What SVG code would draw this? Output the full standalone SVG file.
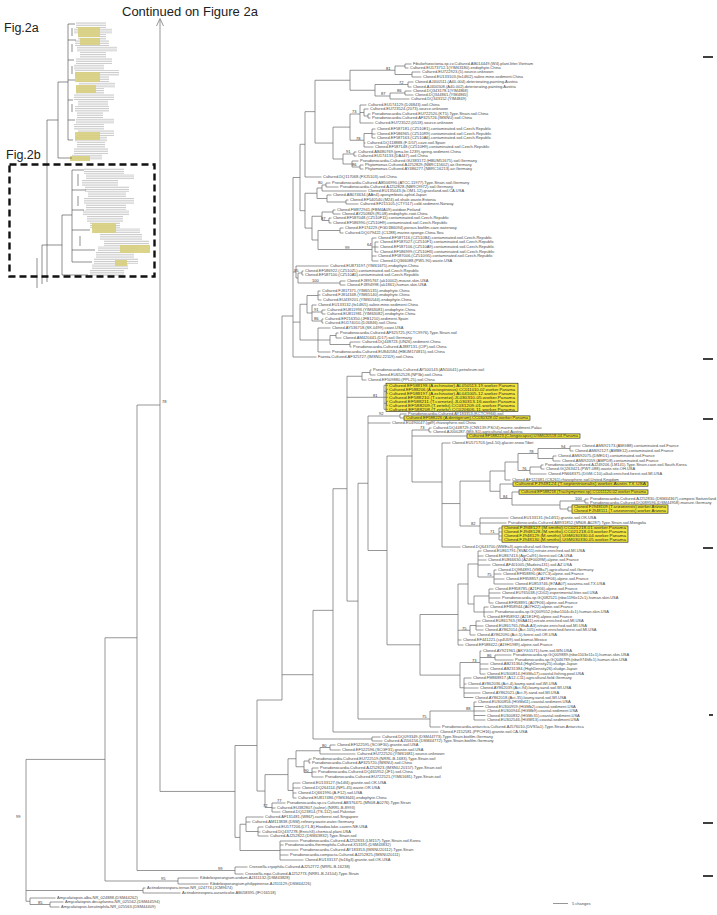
<svg xmlns="http://www.w3.org/2000/svg" width="717" height="915" viewBox="0 0 717 915">
<defs>
<style>
.t{font-family:"Liberation Sans",Arial,sans-serif;font-size:4px;fill:#4a4a4a}
.ty{font-family:"Liberation Sans",Arial,sans-serif;font-size:4px;fill:#2a2a2a}
.bs{font-family:"Liberation Sans",Arial,sans-serif;font-size:4px;fill:#333}
.br{fill:none;stroke:#6a6a6a;stroke-width:0.7}
.hl{fill:#f3e63c;stroke:#1c1c1c;stroke-width:0.6}
.big{font-family:"Liberation Sans",Arial,sans-serif;fill:#222}
.ib{fill:url(#stripes)}
.iy{fill:#d9cf80;opacity:0.9}
.il{fill:none;stroke:#444;stroke-width:0.6}
.tk{fill:#111}
</style>
<pattern id="stripes" width="6" height="1.8" patternUnits="userSpaceOnUse"><rect width="6" height="0.9" fill="#c9c9c9"/></pattern>
</defs>
<rect width="717" height="915" fill="#fff"/>

<g id="inset">
<g id="inset-fig2a">
<rect class="ib" x="76" y="22" width="30" height="6"/><rect class="ib" x="74" y="28" width="38" height="6"/><rect class="ib" x="78" y="34" width="28" height="6"/><rect class="ib" x="75" y="40" width="34" height="6"/><rect class="ib" x="77" y="46" width="40" height="6"/><rect class="ib" x="80" y="52" width="26" height="6"/><rect class="ib" x="76" y="58" width="36" height="6"/><rect class="ib" x="74" y="64" width="30" height="6"/><rect class="ib" x="75" y="70" width="44" height="6"/><rect class="ib" x="77" y="76" width="32" height="6"/><rect class="ib" x="79" y="82" width="36" height="6"/><rect class="ib" x="76" y="88" width="28" height="6"/><rect class="ib" x="74" y="94" width="40" height="6"/><rect class="ib" x="78" y="100" width="30" height="6"/><rect class="ib" x="75" y="106" width="34" height="6"/><rect class="ib" x="77" y="112" width="26" height="6"/><rect class="ib" x="76" y="118" width="38" height="6"/><rect class="ib" x="74" y="124" width="30" height="6"/><rect class="ib" x="78" y="130" width="36" height="6"/><rect class="ib" x="75" y="136" width="32" height="6"/><rect class="ib" x="77" y="142" width="28" height="6"/><rect class="ib" x="74" y="148" width="34" height="6"/><rect class="ib" x="72" y="154" width="30" height="6"/>
<rect class="iy" x="78" y="27" width="22" height="10"/><rect class="iy" x="80" y="38" width="20" height="7"/><rect class="iy" x="75" y="72" width="25" height="10"/><rect class="iy" x="76" y="85" width="20" height="8"/><rect class="iy" x="75" y="132" width="25" height="8"/><rect class="iy" x="70" y="156" width="20" height="5"/>
<path class="il" d="M68 24V140M68 24H75M68 40H76M68 60H74M68 80H75M68 100H73M68 120H75M68 140H73M72 28V36M72 44V52M72 66V74M72 104V112M58 82V158M58 82H68M58 158H72M47 120V282M47 120H58"/>
</g>
<g id="inset-fig2b">
<rect class="ib" x="84" y="168" width="40" height="6"/><rect class="ib" x="86" y="174" width="48" height="6"/><rect class="ib" x="82" y="180" width="36" height="6"/><rect class="ib" x="85" y="186" width="44" height="6"/><rect class="ib" x="88" y="192" width="38" height="6"/><rect class="ib" x="84" y="198" width="50" height="6"/><rect class="ib" x="86" y="204" width="40" height="6"/><rect class="ib" x="83" y="210" width="46" height="6"/><rect class="ib" x="87" y="216" width="36" height="6"/><rect class="ib" x="90" y="222" width="30" height="6"/><rect class="ib" x="95" y="228" width="45" height="6"/><rect class="ib" x="100" y="234" width="42" height="6"/><rect class="ib" x="104" y="240" width="45" height="6"/><rect class="ib" x="98" y="246" width="40" height="6"/><rect class="ib" x="96" y="252" width="38" height="6"/><rect class="ib" x="94" y="258" width="44" height="6"/><rect class="ib" x="92" y="264" width="36" height="6"/><rect class="ib" x="90" y="270" width="34" height="6"/>
<rect class="iy" x="92" y="223" width="24" height="10"/><rect class="iy" x="120" y="245" width="30" height="8"/><rect class="iy" x="115" y="260" width="12" height="6"/>
<path class="il" d="M72 170V262M72 170H84M72 190H86M72 210H84M72 230H90M72 250H95M72 262H92M78 174V186M78 196V206M80 236V246M62 215V275M62 215H72M62 275H88M42 245V284M42 245H62M37 258V288"/>
</g>
<rect x="9.5" y="164.5" width="145" height="112" fill="none" stroke="#111" stroke-width="2.4" stroke-dasharray="7 4"/>
<text class="big" x="4" y="32" font-size="12.5">Fig.2a</text>
<text class="big" x="6" y="159" font-size="12.5">Fig.2b</text>
</g>

<text class="big" x="122" y="16" font-size="13">Continued on Figure 2a</text>

<g id="highlights">
<rect class="hl" x="386" y="383.2" width="132" height="28.2"/>
<rect class="hl" x="404" y="415.9" width="126" height="4.3"/>
<rect class="hl" x="467" y="433.9" width="113" height="4.3"/>
<rect class="hl" x="513" y="481.9" width="135" height="4.3"/>
<rect class="hl" x="519" y="489.9" width="129" height="4.3"/>
<rect class="hl" x="572" y="504.9" width="96" height="8.3"/>
<rect class="hl" x="502" y="525.9" width="126" height="16.3"/>
</g>

<g id="connectors" class="br">
<path d="M156.5 26L160 18.5L163.5 26"/>
<path d="M405 64V68M405 64H411.5M405 68H408.5M412 72V77M412 72H420.5M412 77H421.5M395 66V74.5M395 66H405M395 74.5H412M408 82V87M408 82H413.5M408 87H411.5M405 91V95M405 91H411.5M405 95H413.5M390 93V99M390 93H405M390 99H409.5M375 84.5V96M375 84.5H408M375 96H390M350 70.25V90.25M350 70.25H395M350 90.25H375"/>
<path d="M368 114V118M368 114H370.5M368 118H370.5M364 109V116M364 109H368.5M364 116H368M360 105V123M360 105H366.5M360 112.5H364M360 123H373.5M372 129V138M372 129H375.5M372 134H375.5M372 138H375.5M364 133.5V147M364 133.5H372M364 143H365.5M364 147H373.5M350 114V140.25M350 114H360M350 140.25H364M354 152V156M354 152H356.5M354 156H356.5M360 165V169M360 165H363.5M360 169H363.5M352 161V167M352 161H358.5M352 167H360M343 154V164M343 154H354M343 164H352M333 127.1V159M333 127.1H350M333 159H343M315 80.25V143.05M315 80.25H350M315 143.05H333M305 111.65V177M305 111.65H315M305 177H321.5"/>
<path d="M326 183V187M326 183H330.5M326 187H338.5M322 185V191M322 185H326M322 191H366.5M346 200V204M346 200H348.5M346 204H358.5M327 195V202M327 195H331.5M327 202H346M317 188V198.5M317 188H322M317 198.5H327M333 210V214M333 210H335.5M333 214H340.5M329 218V223M329 218H331.5M329 223H331.5M322 212V220.5M322 212H333M322 220.5H329M340 228V233M340 228H343.5M340 233H343.5M375 242V252M375 242H378.5M375 247H378.5M375 252H378.5M372 238V261M372 238H376.5M372 247H375M372 256H376.5M372 261H378.5M318 230.5V249.5M318 230.5H340M318 249.5H372M312 216.25V240M312 216.25H322M312 240H318M305 193.25V228.1M305 193.25H317M305 228.1H312M300 144.3V210.7M300 144.3H305M300 210.7H305"/>
<path d="M302 271V275M302 271H303.5M302 275H303.5M340 281V285M340 281H345.5M340 285H345.5M298 273V283M298 273H302M298 283H340M296 266V278M296 266H328.5M296 278H298M318 291V300M318 291H320.5M318 295H320.5M318 300H321.5M322 310V314M322 310H325.5M322 314H325.5M322 319V323M322 319H323.5M322 323H323.5M312 305V321M312 305H316.5M312 312H322M312 321H322M307 295.5V313M307 295.5H318M307 313H312M336 333V338M336 333H338.5M336 338H341.5M350 342V347M350 342H360.5M350 347H351.5M330 335.5V344.5M330 335.5H336M330 344.5H350M318 328V352M318 328H330.5M318 340H330M318 352H330.5M300 304.25V340M300 304.25H307M300 340H318M293 177.5V357M293 177.5H300M293 272H296M293 322.1H300M293 357H316.5"/>
<path d="M370 370V375M370 370H371.5M370 375H375.5M362 372.5V380M362 372.5H370M362 380H366.5M384 385.3V409.3M384 385.3H388M384 391.3H386.5M384 397.3H388M384 403.3H386.5M384 409.3H388M386.5 389.3V393.3M386.5 389.3H388M386.5 393.3H388M386.5 401.3V405.3M386.5 401.3H388M386.5 405.3H388M347 376.25V601.1M347 376.25H362M347 397.3H384M347 601.1H358"/>
<path d="M400 414V418M400 414H406.5M400 418H404M368 416V550.5M368 416H400M368 423H390.5M368 550.5H387M429 428V432M429 428H431.5M429 432H431.5M412 430V482M412 430H429M412 436H467M412 482H442M442 443V547M442 443H450.5M442 503.55H460M442 547H460.5"/>
<path d="M570 446V451M570 446H580.5M570 451H573.5M553 456V461M553 456H556.5M553 461H560.5M538 448.5V458.5M538 448.5H570M538 458.5H553M541 465V469M541 465H543.5M541 469H544.5M530 467V474M530 467H541M530 474H546.5M518 453.5V470.5M518 453.5H538M518 470.5H530M505 462V480M505 462H518M505 480H510.5M585 499V503M585 499H588.5M585 503H588.5M568 507V511M568 507H572M568 511H572M560 501V509M560 501H585M560 509H568M512 492V505M512 492H519M512 505H560M500 484V498.5M500 484H513M500 498.5H512M490 471V491.25M490 471H505M490 491.25H500M499 528V540M499 528H502M499 532H502M499 536H502M499 540H502M480 518V534M480 518H508.5M480 523H506.5M480 534H499M460 481.1V526M460 481.1H490M460 526H480"/>
<path d="M387 456V644.8M387 456H412M387 644.8H420"/>
<path d="M494 570V584M494 570H496.5M494 574H501.5M494 579H504.5M494 584H513.5M478 551V577M478 551H481.5M478 556H483.5M478 560H486.5M478 565H490.5M478 577H494M489 589V603M489 589H493.5M489 593H500.5M489 598H500.5M489 603H493.5M484 607V617M484 607H488.5M484 612H493.5M484 617H485.5M474 596V612M474 596H489M474 612H484M468 564V604M468 564H478M468 604H474M476 621V630M476 621H480.5M476 626H483.5M476 630H483.5M470 625.5V635M470 625.5H476M470 635H475.5M458 584V645M458 584H468M458 630.25H470M458 640H461.5M458 645H463.5"/>
<path d="M495 655V660M495 655H511.5M495 660H513.5M480 651V674M480 651H481.5M480 657.5H495M480 664H488.5M480 669H488.5M480 674H485.5M464 678V697.5M464 678H471.5M464 684H466.5M464 688H478.5M464 693H480.5M464 697.5H473.5M460 662.5V687.75M460 662.5H480M460 687.75H464M420 614.5V675.1M420 614.5H458M420 675.1H460"/>
<path d="M474 702V720M474 702H476.5M474 706.5H483.5M474 711H485.5M474 715.5H485.5M474 720H485.5M430 711V727M430 711H474M430 727H440.5M358 483.25V719M358 483.25H368M358 719H430M333 488.7V732M333 488.7H347M333 732H438.5M372 737V741M372 737H380.5M372 741H382.5M313 610.35V739M313 610.35H333M313 739H372M282 316V700M282 316H293M282 674.7H313"/>
<path d="M330 745V750M330 745H335.5M330 750H340.5M320 747.5V754M320 747.5H330M320 754H355.5M309 759V763M309 759H311.5M309 763H310.5M312 768V777M312 768H318.5M312 772H316.5M312 777H323.5M304 761V772.5M304 761H309M304 772.5H312M296 750.75V766.75M296 750.75H320M296 766.75H304M293 783V798M293 783H300.5M293 788H300.5M293 793H296.5M293 798H296.5M288 758.75V790.5M288 758.75H296M288 790.5H293M272 803V812M272 803H285.5M272 808H275.5M272 812H280.5M265 774.6V807.5M265 774.6H288M265 807.5H272M257 700V791.05M257 700H282M257 791.05H265"/>
<path d="M258 827V836M258 827H263.5M258 832H260.5M258 836H268.5M246 817V831.5M246 817H263.5M246 822H250.5M246 831.5H258M280 841V860M280 841H298.5M280 845H283.5M280 850H298.5M280 855H288.5M280 860H303.5M240 824.25V850.5M240 824.25H246M240 850.5H280M235 745.5V837.4M235 745.5H257M235 837.4H240"/>
<path d="M160 20V791.45M160 791.45H235M137 405V870.5M137 405H160M137 870.5H235M235 867V874M235 867H247.5M235 874H243.5M178 878V884M178 878H198.5M178 884H208.5M105 637.75V881M105 637.75H137M105 881H178M143 888V893M143 888H145.5M143 893H180.5M50 902V907M50 902H63.5M50 907H59.5M30 898V904.5M30 898H55.5M30 904.5H50M26 759.4V901.25M26 759.4H105M26 890.5H143M26 901.25H30"/>
<path d="M553 903.5H568"/>
</g>

<g id="clade-top1">
<text class="t" x="413" y="65.4">Fibulorhizoctonia.sp.cv.Cultured.AB014449.(W4).plant.litter.Vietnam</text>
<text class="t" x="410" y="69.4">Cultured.EU173712.1(YIM63180).endophyte.China</text>
<text class="t" x="422" y="73.4">Cultured.EU722923.(5).source.unknown</text>
<text class="t" x="423" y="78.4">Cloned.EU133103.(fo14f02).saline.mine.sediment.China</text>
<text class="t" x="415" y="83.4">Cloned.AJ400511.(A40-004).deteriorating.painting.Austria</text>
<text class="t" x="413" y="88.4">Cloned.AJ400508.(A40-002).deteriorating.painting.Austria</text>
<text class="t" x="413" y="92.4">Cloned.DQ343178.1(YIM4868)</text>
<text class="t" x="415" y="96.4">Cloned.DQ344861.(YIM4865)</text>
<text class="t" x="411" y="100.4">Cultured.DQ343152.(YIM4849)</text>
</g>
<g id="clade-top2">
<text class="t" x="368" y="106.4">Cultured.EU174129.(DJ6843).soil.China</text>
<text class="t" x="370" y="110.4">Cultured.EU723524.(2073).source.unknown</text>
<text class="t" x="372" y="115.4">Pseudonocardia.Cultured.EU722520.(KT5).Type.Strain.soil.China</text>
<text class="t" x="372" y="119.4">Pseudonocardia.Cultured.AF325726.(IMSNU).soil.China</text>
<text class="t" x="375" y="124.4">Cultured.EU723522.(0518).source.unknown</text>
<text class="t" x="377" y="130.4">Cloned.EF587181.(CZ510E1).contaminated.soil.Czech.Republic</text>
<text class="t" x="377" y="135.4">Cloned.EF586965.(CZ510R9).contaminated.soil.Czech.Republic</text>
<text class="t" x="377" y="139.4">Cloned.EF587163.(CZ510A6).contaminated.soil.Czech.Republic</text>
<text class="t" x="367" y="144.4">Cultured.DQ118888.(F-D57).cave.soil.Spain</text>
<text class="t" x="375" y="148.4">Cloned.EF587148.(CZ510H9).contaminated.soil.Czech.Republic</text>
<text class="t" x="358" y="153.4">Cultured.AB480769.(pma.ler.1239).spring.sediment.China</text>
<text class="t" x="358" y="157.4">Cultured.EU174133.(DA447).soil.China</text>
<text class="t" x="360" y="162.4">Pseudonocardia.Cultured.GU383172.(HBUM51675).soil.Germany</text>
<text class="t" x="365" y="166.4">Phytomonas.Cultured.AJ252829.(NBRC15602).air.Germany</text>
<text class="t" x="365" y="170.4">Phytomonas.Cultured.AY486277.(NBRC16213).air.Germany</text>
<text class="t" x="323" y="178.4">Cultured.DQ117068.(FXJ5103).soil.China</text>
</g>
<g id="clade-top3">
<text class="t" x="332" y="184.4">Pseudonocardia.Cultured.AB506990.(ATCC.11977).Type.Strain.soil.Germany</text>
<text class="t" x="340" y="188.4">Pseudonocardia.Cultured.AJ252828.(NBRC9972).soil.Germany</text>
<text class="t" x="368" y="192.4">Cloned.EU135043.(b-OM1-12).grassland.soil.CA.USA</text>
<text class="t" x="333" y="196.4">Cloned.AB074634.(AAn4).aposymbiotic.aphid.Japan</text>
<text class="t" x="350" y="201.4">Cloned.EF540540.(M24).oil.shale.waste.Estonia</text>
<text class="t" x="360" y="205.4">Cultured.EF215105.(CTY517).cold.sediment.Norway</text>
<text class="t" x="337" y="211.4">Cloned.FM872941.(FBM4A09).outdoor.Finland</text>
<text class="t" x="342" y="215.4">Cloned.AY250869.(RL08).endophytic.root.China</text>
<text class="t" x="333" y="219.4">Cloned.EF587048.(CZ510F11).contaminated.soil.Czech.Republic</text>
<text class="t" x="333" y="224.4">Cloned.EF586990.(CZ510H9).contaminated.soil.Czech.Republic</text>
<text class="t" x="345" y="229.4">Cloned.EF174229.(FGD1B6094).porous.biofilm.cave.waterway</text>
<text class="t" x="345" y="234.4">Cultured.DQ079422.(C1288).marine.sponge.China.Sea</text>
<text class="t" x="378" y="239.4">Cloned.EF587116.(CZ510B4).contaminated.soil.Czech.Republic</text>
<text class="t" x="380" y="243.4">Cloned.EF587027.(CZ510F1).contaminated.soil.Czech.Republic</text>
<text class="t" x="380" y="248.4">Cloned.EF587106.(CZ510A9).contaminated.soil.Czech.Republic</text>
<text class="t" x="380" y="253.4">Cloned.EF586999.(CZ510H3).contaminated.soil.Czech.Republic</text>
<text class="t" x="378" y="257.4">Cloned.EF587006.(CZ510G5).contaminated.soil.Czech.Republic</text>
<text class="t" x="380" y="262.4">Cloned.DQ366088.(PW5-90).waste.USA</text>
</g>
<g id="clade-top4">
<text class="t" x="330" y="267.4">Cultured.EU873197.(YIM61675).endophyte.China</text>
<text class="t" x="305" y="272.4">Cloned.EF586922.(CZ510ZL).contaminated.soil.Czech.Republic</text>
<text class="t" x="305" y="276.4">Cloned.EF587100.(CZ510A5).contaminated.soil.Czech.Republic</text>
<text class="t" x="347" y="282.4">Cloned.FJ895767.(ak10002).mouse.skin.USA</text>
<text class="t" x="347" y="286.4">Cloned.FJ894998.(ak1861).human.skin.USA</text>
<text class="t" x="322" y="292.4">Cultured.FJ817371.(YIM65135).endophyte.China</text>
<text class="t" x="322" y="296.4">Cultured.FJ814348.(YIM65140).endophyte.China</text>
<text class="t" x="323" y="301.4">Cultured.EU439201.(YIM60544).endophyte.China</text>
<text class="t" x="318" y="306.4">Cloned.EU133132.(fo14f05).saline.mine.sediment.China</text>
<text class="t" x="327" y="311.4">Cultured.EU811993.(YIM63081).endophyte.China</text>
<text class="t" x="327" y="315.4">Cultured.EU811981.(YIM63082).endophyte.China</text>
<text class="t" x="325" y="320.4">Cultured.EF216350.(JFB1210).sediment.Spain</text>
<text class="t" x="325" y="324.4">Cultured.EU174010.(DJ6846).soil.China</text>
<text class="t" x="332" y="329.4">Cloned.AY536718.(SK.0499).coast.USA</text>
<text class="t" x="340" y="334.4">Pseudonocardia.Cultured.AF325725.(KCTC9976).Type.Strain.soil</text>
<text class="t" x="343" y="339.4">Cloned.AM420441.(D17).soil.Germany</text>
<text class="t" x="362" y="343.4">Cultured.DQ448723.(UN26).sediment.China</text>
<text class="t" x="353" y="348.4">Pseudonocardia.Cultured.AJ887131.(CIP).soil.China</text>
<text class="t" x="332" y="353.4">Pseudonocardia.Cultured.EU840584.(HBUM174815).soil.China</text>
<text class="t" x="318" y="358.4">Faenia.Cultured.AF325727.(IMSNU.22119).soil.China</text>
</g>
<g id="clade-ant1">
<text class="t" x="373" y="371.4">Pseudonocardia.Cultured.AY500143.(AN10041).petroleum.soil</text>
<text class="t" x="377" y="376.4">Cloned.EU652528.(NP3b).soil.China</text>
<text class="t" x="368" y="381.4">Cloned.EF509880.(PPL25).soil.China</text>
<text class="ty" x="389" y="386.7" textLength="126" lengthAdjust="spacingAndGlyphs">Cultured.EF588198.(A.echinatior).AL050513-19.worker.Panama</text>
<text class="ty" x="389" y="390.7" textLength="126" lengthAdjust="spacingAndGlyphs">Cultured.EF588206.(A.octospinosus).CC011010-02.worker.Panama</text>
<text class="ty" x="389" y="394.7" textLength="126" lengthAdjust="spacingAndGlyphs">Cultured.EF588197.(A.echinatior).AL041005-12.worker.Panama</text>
<text class="ty" x="389" y="398.7" textLength="126" lengthAdjust="spacingAndGlyphs">Cultured.EF588210.(T.cornetzi).JL030310-05.worker.Panama</text>
<text class="ty" x="389" y="402.7" textLength="126" lengthAdjust="spacingAndGlyphs">Cultured.EF588211.(T.cornetzi).JL030313-16.worker.Panama</text>
<text class="ty" x="389" y="406.7" textLength="126" lengthAdjust="spacingAndGlyphs">Cultured.EF588209.(T.zeteki).CC031209-01.worker.Panama</text>
<text class="ty" x="389" y="410.7" textLength="126" lengthAdjust="spacingAndGlyphs">Cultured.EF588208.(T.zeteki).CC020606-11.worker.Panama</text>
</g>
<g id="clade-mid1">
<text class="t" x="408" y="415.4">Pseudonocardia.Cultured.AY183353.(KCTC9966).soil</text>
<text class="ty" x="406" y="419.4" textLength="122" lengthAdjust="spacingAndGlyphs">Cultured.EF588226.(A.dentigerum).CC030328-02.worker.Panama</text>
<text class="t" x="392" y="424.4">Cloned.EU490047.(gd9).rhizosphere.soil.China</text>
<text class="t" x="433" y="429.4">Cultured.DQ448729.(CNS139-PSO4).marine.sediment.Palau</text>
<text class="t" x="433" y="433.4">Cloned.AJ000287.(MG-S1).agricultural.soil.Austria</text>
<text class="ty" x="469" y="437.4" textLength="109" lengthAdjust="spacingAndGlyphs">Cultured.EF588223.(C.longiscapus).UGM020518-04.Panama</text>
<text class="t" x="452" y="444.4">Cloned.EU571703.(ps4-50).glacier.snow.Tibet</text>
<text class="t" x="582" y="447.4">Cloned.AM692173.(AMGB8).contaminated.soil.France</text>
<text class="t" x="575" y="452.4">Cloned.AM692127.(AMBE12).contaminated.soil.France</text>
<text class="t" x="558" y="457.4">Cloned.AM692075.(DMED1).contaminated.soil.France</text>
<text class="t" x="562" y="462.4">Cloned.AM692059.(AMPD8).contaminated.soil.France</text>
<text class="t" x="545" y="466.4">Pseudonocardia.Cultured.AJ249206.(LM141).Type.Strain.cave.soil.South.Korea</text>
<text class="t" x="546" y="470.4">Cloned.GQ263421.(PW7-088).waste.site.OH.USA</text>
<text class="t" x="548" y="475.4">Cloned.FN668375.(DGM-C10).alkali.enriched.forest.soil.MI.USA</text>
<text class="t" x="512" y="481.4">Cloned.AF122481.(CS261).rhizosphere.soil.United.Kingdom</text>
<text class="ty" x="515" y="485.4" textLength="131" lengthAdjust="spacingAndGlyphs">Cultured.FJ948124.(T.septentrionalis).worker.Austin.TX.USA</text>
<text class="ty" x="521" y="493.4" textLength="125" lengthAdjust="spacingAndGlyphs">Cultured.EF588218.(Trachymyrmex.sp).CC011120-02.worker.Panama</text>
<text class="t" x="590" y="500.4">Pseudonocardia.Cultured.AJ252830.(DSM44367).compost.Switzerland</text>
<text class="t" x="590" y="504.4">Pseudonocardia.Cultured.DQ089596.(DSM44958).manure.Germany</text>
<text class="ty" x="574" y="508.4" textLength="92" lengthAdjust="spacingAndGlyphs">Cloned.FJ948109.(T.arizonensis).worker.Arizona</text>
<text class="ty" x="574" y="512.4" textLength="92" lengthAdjust="spacingAndGlyphs">Cloned.FJ948111.(T.arizonensis).worker.Arizona</text>
<text class="t" x="510" y="519.4">Cloned.EU133131.(fo14f11).granite.soil.OK.USA</text>
<text class="t" x="508" y="524.4">Pseudonocardia.Cultured.AB931852.(MN08-A0287).Type.Strain.soil.Mongolia</text>
<text class="ty" x="504" y="529.4" textLength="122" lengthAdjust="spacingAndGlyphs">Cloned.FJ948127.(M.smithii).CC021218-01.worker.Panama</text>
<text class="ty" x="504" y="533.4" textLength="122" lengthAdjust="spacingAndGlyphs">Cloned.FJ948128.(M.smithii).CC021218-03.worker.Panama</text>
<text class="ty" x="504" y="537.4" textLength="122" lengthAdjust="spacingAndGlyphs">Cloned.FJ948129.(M.smithii).UGM030330-04.worker.Panama</text>
<text class="ty" x="504" y="541.4" textLength="122" lengthAdjust="spacingAndGlyphs">Cloned.FJ948130.(M.smithii).UGM030330-05.worker.Panama</text>
<text class="t" x="462" y="548.4">Cloned.DQ643700.(WMEa3).agricultural.soil.Germany</text>
</g>
<g id="clade-soil">
<text class="t" x="483" y="552.4">Cloned.EU861791.(SVAD11).nitrate.enriched.soil.MI.USA</text>
<text class="t" x="485" y="557.4">Cloned.EU867413.(AgrCal91).forest.soil.CA.USA</text>
<text class="t" x="488" y="561.4">Cloned.EU866630.(A24F0009M).alpine.soil.France</text>
<text class="t" x="492" y="566.4">Cloned.AF401005.(Madeira131).soil.AZ.USA</text>
<text class="t" x="498" y="571.4">Cloned.DQ984891.(VMBa7).agricultural.soil.Germany</text>
<text class="t" x="503" y="575.4">Cloned.EF858890.(A07C3).alpine.soil.France</text>
<text class="t" x="506" y="580.4">Cloned.EF858857.(A19F06).alpine.soil.France</text>
<text class="t" x="515" y="585.4">Cloned.EU853746.(E7AA07).savanna.soil.TX.USA</text>
<text class="t" x="495" y="590.4">Cloned.EF858785.(A21F06).alpine.soil.France</text>
<text class="t" x="502" y="594.4">Cloned.EU765038.(CD02).experimental.litter.soil.USA</text>
<text class="t" x="502" y="599.4">Pseudonocardia.sp.GQ082521.(nbw1196e12c1).human.skin.USA</text>
<text class="t" x="495" y="604.4">Cloned.EF858891.(A07F06).alpine.soil.France</text>
<text class="t" x="490" y="608.4">Cloned.EF858944.(A07H22).alpine.soil.France</text>
<text class="t" x="495" y="613.4">Pseudonocardia.sp.GQ009552.(nbw1104c4c1).human.skin.USA</text>
<text class="t" x="487" y="618.4">Cloned.EF858932.(A21E1F6).alpine.soil.France</text>
<text class="t" x="482" y="622.4">Cloned.EU861763.(SVAA11).nitrate.enriched.soil.MI.USA</text>
<text class="t" x="485" y="627.4">Cloned.EU861765.(WaA-A3).nitrate.enriched.soil.MI.USA</text>
<text class="t" x="485" y="631.4">Cloned.AY862014.(Act-105).nitrate.enriched.forest.soil.MI.USA</text>
<text class="t" x="477" y="636.4">Cloned.AY862090.(Act-5).forest.soil.OR.USA</text>
<text class="t" x="463" y="641.4">Cloned.EF441221.(cp4U09).soil.biomat.Mexico</text>
<text class="t" x="465" y="646.4">Cloned.EF588422.(A19H1989).alpine.soil.France</text>
<text class="t" x="483" y="652.4">Cloned.AY921961.(AKYG1571).farm.soil.MN.USA</text>
<text class="t" x="513" y="656.4">Pseudonocardia.sp.GQ009889.(nbw1103e11c1).human.skin.USA</text>
<text class="t" x="515" y="661.4">Pseudonocardia.sp.GQ046789.(nbw974h8c1).human.skin.USA</text>
<text class="t" x="490" y="665.4">Cloned.AB231364.(HighDensity25).sludge.Japan</text>
<text class="t" x="490" y="670.4">Cloned.AB231384.(HighDensity26).sludge.Japan</text>
<text class="t" x="487" y="675.4">Cloned.EU300814.(HGMa17).coastal.fishing.pool.USA</text>
<text class="t" x="473" y="679.4">Cloned.FM868817.(A12-C11).agricultural.field.Germany</text>
<text class="t" x="468" y="685.4">Cloned.AY862036.(Act-4).loamy.sand.soil.WI.USA</text>
<text class="t" x="480" y="689.4">Cloned.AY862039.(Act-94).loamy.sand.soil.WI.USA</text>
<text class="t" x="482" y="694.4">Cloned.AY862021.(Act-9).sand.soil.MI.USA</text>
<text class="t" x="475" y="698.9">Cloned.AY862018.(Act-35).loamy.sand.soil.WI.USA</text>
<text class="t" x="478" y="703.4">Cloned.EU300856.(HGMd11).coastal.sediment.USA</text>
<text class="t" x="485" y="707.9">Cloned.EU300959.(HGMb2).coastal.sediment.USA</text>
<text class="t" x="487" y="712.4">Cloned.EU300944.(HGMb9).coastal.sediment.USA</text>
<text class="t" x="487" y="716.9">Cloned.EU300832.(HGMc31).coastal.sediment.USA</text>
<text class="t" x="487" y="721.4">Cloned.EU302546.(HGMf13).coastal.sediment.USA</text>
<text class="t" x="442" y="728.4">Pseudonocardia.antarctica.Cultured.AJ576010.(DVS5a1).Type.Strain.Antarctica</text>
<text class="t" x="440" y="733.4">Cloned.FJ152581.(PPCH16).granite.soil.CA.USA</text>
<text class="t" x="382" y="738.4">Cultured.DQ093349.(DSM44773).Type.Strain.biofilm.Germany</text>
<text class="t" x="384" y="742.4">Cultured.AJ556156.(DSM44772).Type.Strain.biofilm.Germany</text>
</g>
<g id="clade-lower">
<text class="t" x="337" y="746.4">Cloned.EF522595.(SCGF30).granite.soil.USA</text>
<text class="t" x="342" y="751.4">Cloned.EF522596.(SCGF31).granite.soil.USA</text>
<text class="t" x="357" y="755.4">Cultured.EU722520.(YIM61681).source.unknown</text>
<text class="t" x="313" y="760.4">Pseudonocardia.Cultured.EU722519.(NRRL.B-1683).Type.Strain.soil</text>
<text class="t" x="312" y="764.4">Pseudonocardia.Cultured.AF325720.(IMSNU).soil.China</text>
<text class="t" x="320" y="769.4">Pseudonocardia.Cultured.AJ252823.(IMSNU.20157).Type.Strain.soil</text>
<text class="t" x="318" y="773.4">Pseudonocardia.Cultured.DQ465952.(JF1).soil.China</text>
<text class="t" x="325" y="778.4">Pseudonocardia.Cultured.EU722521.(YIM61681).Type.Strain.soil</text>
<text class="t" x="302" y="784.4">Cloned.EU133127.(fo14f4).granite.soil.OK.USA</text>
<text class="t" x="302" y="789.4">Cloned.DQ264114.(NF5-45).waste.OR.USA</text>
<text class="t" x="298" y="794.4">Cloned.DQ661990.(A-F12).soil.USA</text>
<text class="t" x="298" y="799.4">Cultured.EU817486.(YIM63646).endophyte.China</text>
<text class="t" x="287" y="804.4">Pseudonocardia.sp.cv.Cultured.AB376471.(MN08-A0276).Type.Strain</text>
<text class="t" x="277" y="809.4">Cultured.EU382807.(saline).(NRRL.B-8993)</text>
<text class="t" x="282" y="813.4">Cloned.DQ123814.(TS-112).soil.Pakistan</text>
<text class="t" x="265" y="818.4">Cultured.AF131481.(W867).rainforest.soil.Singapore</text>
<text class="t" x="252" y="823.4">Cultured.AM113838.(DSM).refinery.waste.water.Germany</text>
<text class="t" x="265" y="828.4">Cultured.EU177206.(LY1-B).Hoodoo.lake.cavern.NE.USA</text>
<text class="t" x="262" y="833.4">Cultured.DQ437278.(Enrich3).chemical.plant.USA</text>
<text class="t" x="270" y="837.4">Cultured.AJ252822.(DSM43832).Type.Strain.soil</text>
<text class="t" x="300" y="842.4">Pseudonocardia.Cultured.AJ252833.(LM157).Type.Strain.soil.Korea</text>
<text class="t" x="285" y="846.4">Pseudonocardia.thermophila.Cultured.X53195.(DSM43832)</text>
<text class="t" x="300" y="851.4">Pseudonocardia.Cultured.AY183353.(IMSNU20112).Type.Strain</text>
<text class="t" x="290" y="856.4">Pseudonocardia.compacta.Cultured.AJ252825.(IMSNU20111)</text>
<text class="t" x="305" y="861.4">Cloned.EU133137.(fo16g3).granite.soil.OK.USA</text>
</g>
<g id="clade-outgroups">
<text class="t" x="249" y="868.4">Crossiella.cryophila.Cultured.AJ252772.(NRRL.B-16238)</text>
<text class="t" x="245" y="875.4">Crossiella.equi.Cultured.AJ252773.(NRRL.B-24104).Type.Strain</text>
<text class="t" x="200" y="879.4">Kibdelosporangium.aridum.AJ311132.(DSM43828)</text>
<text class="t" x="210" y="885.4">Kibdelosporangium.philippinense.AJ311129.(DSM44226)</text>
<text class="t" x="147" y="889.4">Actinokineospora.terrae.NR_024774.(JCM9674)</text>
<text class="t" x="182" y="894.4">Actinokineospora.auranticolor.AB058395.(IFO16518)</text>
<text class="t" x="57" y="899.4">Amycolatopsis.alba.NR_024888.(DSM44262)</text>
<text class="t" x="65" y="903.4">Amycolatopsis.decaplanina.NR_025562.(DSM44594)</text>
<text class="t" x="61" y="908.4">Amycolatopsis.keratiniphila.NR_025563.(DSM44409)</text>
</g>

<g id="support-values">
<text class="bs" x="386" y="69.5">81</text><text class="bs" x="399" y="83.7">72</text><text class="bs" x="397" y="92.3">86</text><text class="bs" x="381" y="95.2">87</text>
<text class="bs" x="352" y="113.2">73</text><text class="bs" x="356" y="139.5">78</text><text class="bs" x="346" y="153.2">91</text><text class="bs" x="352" y="166.2">86</text>
<text class="bs" x="318" y="184.2">80</text><text class="bs" x="321" y="219.7">87</text><text class="bs" x="367" y="246.2">64</text><text class="bs" x="345" y="248.7">99</text>
<text class="bs" x="294" y="272.2">95</text><text class="bs" x="312" y="282.2">100</text><text class="bs" x="314" y="311.2">91</text><text class="bs" x="314" y="320.2">86</text>
<text class="bs" x="373" y="396.5">81</text><text class="bs" x="379" y="415.2">92</text><text class="bs" x="420" y="429.3">73</text>
<text class="bs" x="529" y="452.7">78</text><text class="bs" x="561" y="447.7">94</text><text class="bs" x="522" y="469.7">76</text>
<text class="bs" x="503" y="497.7">84</text><text class="bs" x="575" y="500.2">100</text><text class="bs" x="471" y="525.2">82</text><text class="bs" x="490" y="533.2">71</text>
<text class="bs" x="487" y="576.2">75</text><text class="bs" x="462" y="629.5">75</text><text class="bs" x="487" y="656.7">86</text><text class="bs" x="472" y="661.7">73</text>
<text class="bs" x="466" y="710.2">88</text><text class="bs" x="422" y="718.2">75</text>
<text class="bs" x="162" y="403">78</text>
<text class="bs" x="322" y="746.7">80</text><text class="bs" x="304" y="771.7">90</text><text class="bs" x="277" y="801.8">77</text><text class="bs" x="263" y="806.7">72</text>
<text class="bs" x="218" y="869.7">99</text><text class="bs" x="161" y="880.2">95</text><text class="bs" x="16" y="818">99</text><text class="bs" x="38" y="903.7">85</text>
</g>

<g id="ticks">
<rect class="tk" x="703" y="56.2" width="10" height="1.6"/>
<rect class="tk" x="703" y="358.2" width="10" height="1.6"/>
<rect class="tk" x="703" y="418.2" width="10" height="1.6"/>
<rect class="tk" x="703" y="547.2" width="10" height="1.6"/>
<rect class="tk" x="709" y="714.2" width="4" height="1.6"/>
<rect class="tk" x="703" y="822.2" width="10" height="1.6"/>
<rect class="tk" x="703" y="875.2" width="10" height="1.6"/>
</g>
<g id="scale">
<text class="t" x="572" y="905">5 changes</text>
</g>
</svg>
